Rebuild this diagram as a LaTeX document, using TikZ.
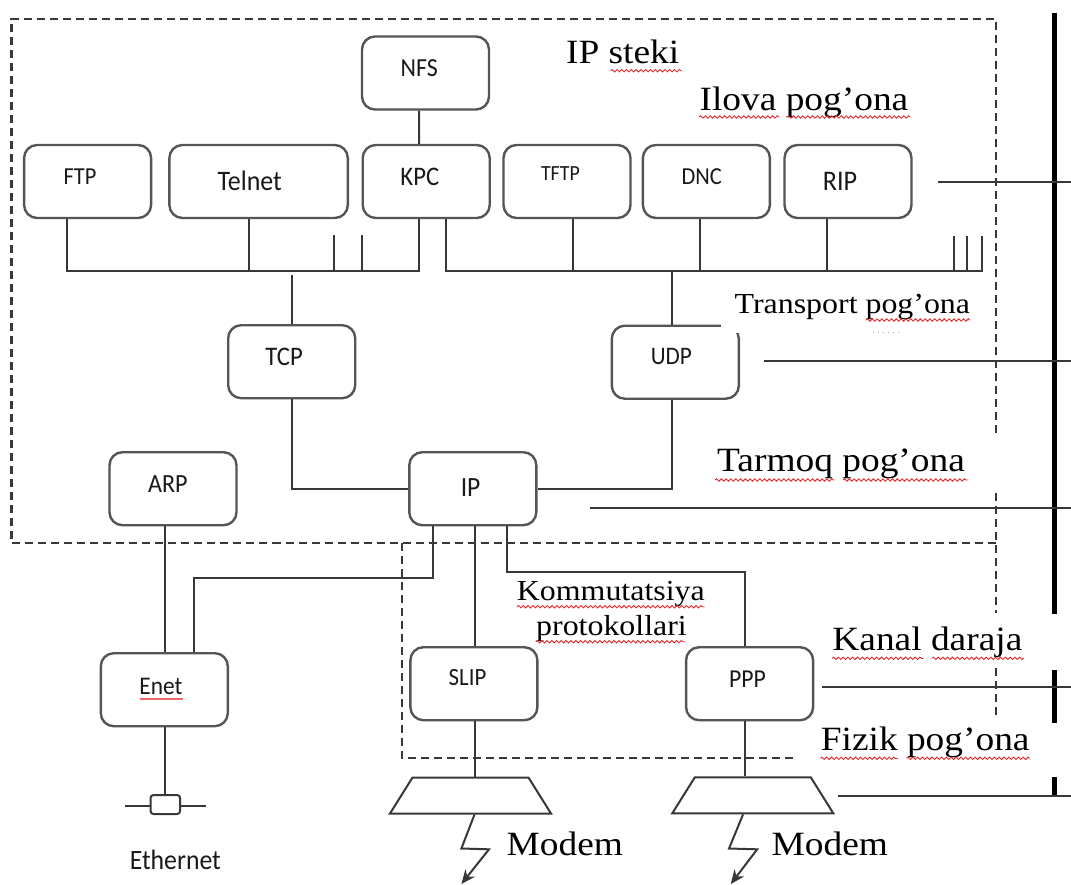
\documentclass[tikz,border=0pt]{standalone}
\usepackage{fontspec}
\setmainfont{Liberation Serif}[FakeStretch=1.1]
\newfontfamily\labelfont{Carlito}[FakeStretch=0.92]
\usetikzlibrary{shapes.geometric,arrows.meta,decorations.pathmorphing}

\definecolor{boxgray}{HTML}{555555}
\definecolor{linegray}{HTML}{383838}
\definecolor{spellred}{HTML}{E8282C}
\definecolor{grammargreen}{HTML}{7FBF7F}

\newcommand{\fsz}[1]{\fontsize{#1pt}{#1pt}\selectfont}

\begin{document}
\begin{tikzpicture}[x=0.5pt,y=-0.5pt,
  proto/.style={draw=boxgray, line width=1.2pt, rounded corners=6.5pt,
    minimum width=63.5pt, minimum height=36.5pt, inner sep=0pt, fill=white},
  plabel/.style={text=black!90, inner sep=0pt},
  wire/.style={draw=linegray, line width=1pt},
  frame/.style={draw=linegray, line width=1.1pt, dash pattern=on 4pt off 2.5pt},
  layer/.style={draw=linegray, line width=0.9pt},
  spine/.style={draw=black, line width=2.5pt},
  caption/.style={inner sep=0pt, anchor=base west},
  spell/.style={draw=spellred, line width=0.45pt, decorate,
    decoration={snake, amplitude=0.6pt, segment length=2.4pt}},
  modem/.style={trapezium, trapezium angle=79, trapezium stretches=true,
    draw=linegray, line width=1pt, minimum width=80.5pt, minimum height=18pt,
    inner sep=2pt},
  bolt/.style={wire, -{Stealth[length=7pt,width=6pt]}},
]
\useasboundingbox (0,0) rectangle (1071,884);

% ---------- dashed frames ----------
\draw[frame] (996,433) -- (996,19) -- (11.4,19) -- (11.4,543.3) -- (996,543.3);
\draw[frame] (996,493) -- (996,613);
\draw[frame] (996,668) -- (996,717);
\draw[frame] (402,543.3) -- (402,758.3) -- (797.6,758.3);

% ---------- layer spine on the right ----------
\draw[spine] (1054,12.7) -- (1054,614);
\draw[spine] (1054,670) -- (1054,723);
\draw[spine] (1054,777) -- (1054,796);
\coordinate (appL) at (938,181.7);   \coordinate (appR) at (1071,181.7);
\coordinate (trL) at (764.2,361);    \coordinate (trR) at (1071,361);
\coordinate (netL) at (590.3,507.7); \coordinate (netR) at (1071,507.7);
\coordinate (lnkL) at (822.2,686.7); \coordinate (lnkR) at (1071,686.7);
\coordinate (phyL) at (838,796);     \coordinate (phyR) at (1071,796);
\draw[layer] (appL) -- (appR);
\draw[layer] (trL) -- (trR);
\draw[layer] (netL) -- (netR);
\draw[layer] (lnkL) -- (lnkR);
\draw[layer] (phyL) -- (phyR);

% ---------- protocol boxes ----------
\node[proto] (nfs) at (425.5,73) {};
\node[proto] (ftp) at (87.6,181.5) {};
\node[proto, minimum width=89.2pt] (telnet) at (258.6,181.5) {};
\node[proto] (kpc) at (426.2,181.5) {};
\node[proto] (tftp) at (567,181.5) {};
\node[proto] (dnc) at (706.4,181.5) {};
\node[proto] (rip) at (848,181.5) {};
\node[proto] (tcp) at (291.7,361.7) {};
\node[proto] (udp) at (675.3,362.2) {};
\node[proto] (arp) at (173,488.7) {};
\node[proto] (ip) at (472.8,488.7) {};
\node[proto] (enet) at (164.3,689.7) {};
\node[proto] (slip) at (473.9,683.7) {};
\node[proto] (ppp) at (749.6,683.7) {};

\node[plabel, font={\labelfont\fsz{13}}] (nfs-t) at (419.2,68.5) {NFS};
\node[plabel, font={\labelfont\fsz{12.2}}] (ftp-t) at (80,176.2) {FTP};
\node[plabel, font={\labelfont\fsz{14.1}}] (telnet-t) at (249.7,180.5) {Telnet};
\node[plabel, font={\labelfont\fsz{13.4}}] (kpc-t) at (419.8,176.7) {KPC};
\node[plabel, font={\labelfont\fsz{10.8}}] (tftp-t) at (560.4,173.3) {TFTP};
\node[plabel, font={\labelfont\fsz{12.2}}] (dnc-t) at (701.8,176.7) {DNC};
\node[plabel, font={\labelfont\fsz{14.2}}] (rip-t) at (840.1,181.7) {RIP};
\node[plabel, font={\labelfont\fsz{13.4}}] (tcp-t) at (284.1,356.7) {TCP};
\node[plabel, font={\labelfont\fsz{12.6}}] (udp-t) at (671.4,356.7) {UDP};
\node[plabel, font={\labelfont\fsz{13.1}}] (arp-t) at (167.9,484) {ARP};
\node[plabel, font={\labelfont\fsz{13.9}}] (ip-t) at (470.6,487.3) {IP};
\node[plabel, font={\labelfont\fsz{12.7}}] (enet-t) at (161,686.7) {Enet};
\node[plabel, font={\labelfont\fsz{12.4}}] (slip-t) at (467.5,677.3) {SLIP};
\node[plabel, font={\labelfont\fsz{12.9}}] (ppp-t) at (747.5,679.3) {PPP};

% ---------- application layer buses ----------
\draw[wire] ([xshift=-3.25pt]nfs.south) -- ([xshift=-3.5pt]kpc.north);
\draw[wire] (ftp.south -| 66.5,0) |- (419,270.5) -- (kpc.south -| 419,0);
\draw[wire] (telnet.south -| 249.3,0) -- (249.3,270.5);
\coordinate (stubA) at (334,235);   \coordinate (stubB) at (362.3,235);
\draw[wire] (stubA) -- (334,270.5);
\draw[wire] (stubB) -- (362.3,270.5);
\coordinate (stubC) at (954,236);   \coordinate (stubD) at (967,236);
\coordinate (stubE) at (982,236);
\draw[wire] (kpc.south -| 446.3,0) |- (982,270.5) -- (stubE);
\draw[wire] (stubC) -- (954,270.5);
\draw[wire] (stubD) -- (967,270.5);
\draw[wire] (tftp.south -| 573.4,0) -- (573.4,270.5);
\draw[wire] (dnc.south -| 700.3,0) -- (700.3,270.5);
\draw[wire] (rip.south -| 826.7,0) -- (826.7,270.5);

% ---------- transport and network ----------
\coordinate (tcpUp) at (291.7,275);
\draw[wire] (tcpUp) -- (tcp.north);
\draw[wire] (671.8,270.5) -- (udp.north -| 671.8,0);
\draw[wire] (tcp.south) |- (ip.west);
\draw[wire] (udp.south -| 671.8,0) |- (ip.east);

% ---------- link layer ----------
\draw[wire] (arp.south -| 165.3,0) -- (enet.north -| 165.3,0);
\draw[wire] (ip.south -| 433.2,0) |- (193.9,578.3) -- (enet.north -| 193.9,0);
\draw[wire] (ip.south -| 474.5,0) -- (slip.north -| 474.5,0);
\draw[wire] (ip.south -| 507.2,0) |- (744.9,572.3) -- (ppp.north -| 744.9,0);

% ---------- physical layer ----------
\node[modem] (modem1) at (470.5,795.5) {};
\node[modem] (modem2) at (752.8,795.3) {};
\draw[wire] (slip.south -| 474.5,0) -- (modem1.north -| 474.5,0);
\draw[wire] (ppp.south -| 744.9,0) -- (modem2.north -| 744.9,0);
\draw[bolt] (modem1.south -| 474.5,0) -- (461.4,848.5) -- (489,849.3) -- (461.4,884);
\draw[bolt] (modem2.south -| 743.1,0) -- (729,848.5) -- (757.2,849.3) -- (730.8,884);

\coordinate (ethL) at (125,805.7); \coordinate (ethR) at (205.6,805.7);
\draw[wire] (ethL) -- (ethR);
\node[draw=linegray, line width=1pt, rounded corners=1.5pt, fill=white,
  minimum width=14.8pt, minimum height=9.5pt, inner sep=0pt] (tap) at (165.3,804.5) {};
\draw[wire] (enet.south -| 165.3,0) -- (tap.north -| 165.3,0);
\node[plabel, font={\labelfont\fsz{14}}] (ethernet) at (175.3,860) {Ethernet};

% ---------- captions ----------
\node[caption, font=\fsz{17}] (stack) at (565.7,63) {IP steki};
\node[caption, font=\fsz{17}] (appcap) at (699.2,110) {Ilova pog’ona};
\node[caption, font=\fsz{14.5}, fill=white, inner xsep=7pt, inner ysep=6.5pt]
  (trcap) at (720.3,313.3) {Transport pog’ona};
\node[caption, font=\fsz{17}] (netcap) at (716.8,471.7) {Tarmoq pog’ona};
\node[caption, font=\fsz{14.5}] (komm1) at (516.5,600) {Kommutatsiya};
\node[caption, font=\fsz{14.5}] (komm2) at (535.8,635) {protokollari};
\node[caption, font=\fsz{17}] (lnkcap) at (832,650) {Kanal daraja};
\node[caption, font=\fsz{17}] (phycap) at (820.4,750.7) {Fizik pog’ona};
\node[caption, font=\fsz{17}] (modcap1) at (506.2,855) {Modem};
\node[caption, font=\fsz{17}] (modcap2) at (771.2,855) {Modem};

% ---------- proofing marks under words ----------
\draw[spell] (610.6,70.7) -- (681.6,70.7);
\draw[spell] (699,117) -- (779,117);
\draw[spell] (787,117) -- (910,117);
\draw[spell] (866,320) -- (970,320);
\draw[draw=grammargreen, line width=0.5pt, dotted] (873,332.7) -- (899.5,332.7);
\draw[spell] (715,480) -- (834.5,480);
\draw[spell] (843,480) -- (968,480);
\draw[spell] (517,606.7) -- (704.5,606.7);
\draw[spell] (535.8,641.7) -- (685,641.7);
\draw[spell] (832,658.3) -- (923.4,658.3);
\draw[spell] (931.8,658.3) -- (1024.2,658.3);
\draw[spell] (820.4,758.3) -- (897.7,758.3);
\draw[spell] (906.5,758.3) -- (1029.5,758.3);
\draw[draw=spellred!70, line width=1.3pt] (139.5,699) -- (182.5,699);

\end{tikzpicture}
\end{document}
